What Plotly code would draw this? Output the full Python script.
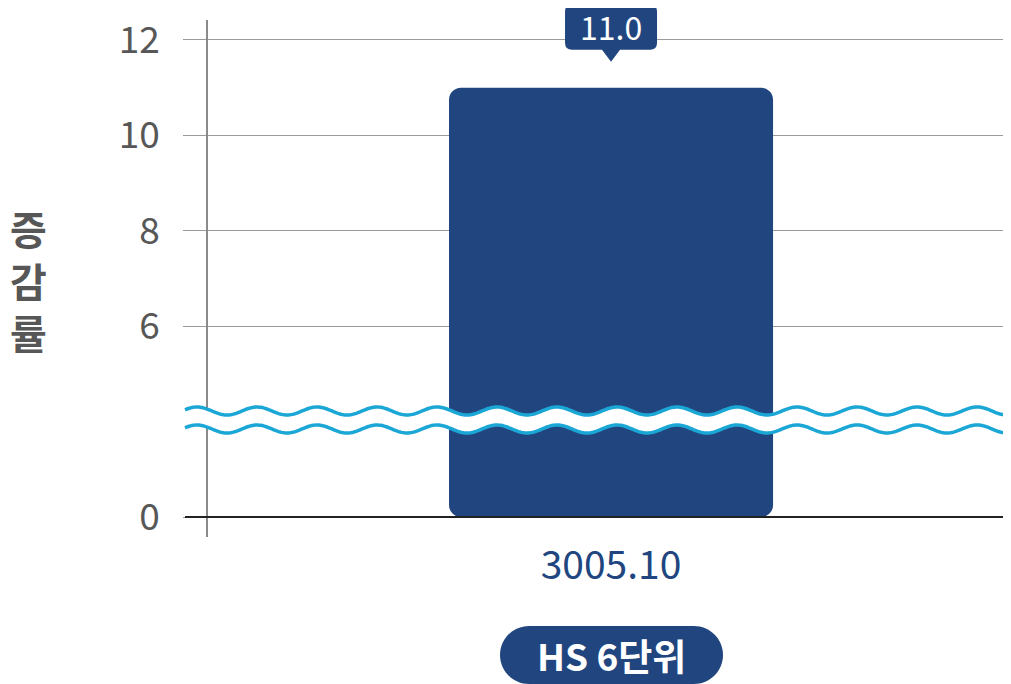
import numpy as np
import plotly.graph_objects as go

# ---- data ----
CATEGORIES = ["3005.10"]
VALUES = [11.0]
Y_TICK_VALUES = [0, 6, 8, 10, 12]
Y_TITLE = "증<br>감<br>률"
GROUP_LABEL = "HS 6단위"

# broken axis: values below the break are shifted so that 0 sits at this position
ZERO_POS = 2.0
BREAK_AT = 6


def axis_pos(v):
    return v if v >= BREAK_AT else v + ZERO_POS


# ---- style / layout constants ----
OFF = 8  # page body margin
W, H = 1011 - OFF, 684 - OFF
ML, MT = 208 - OFF, 20 - OFF
PW = 802
PH = 517
MR = W - ML - PW
MB = H - MT - PH
Y_RANGE = [1.581, 12.419]
X_RANGE = [-0.4975, len(CATEGORIES) - 0.5075]
BAR_COLOR = "#21467f"
WAVE_COLOR = "#1ba7d6"
TEXT_GRAY = "#575757"
FONT = "Noto Sans CJK KR"


def px_to_paper(px, py):
    # px, py in reference-window pixels
    return (px - OFF - ML) / PW, (MT + PH - (py - OFF)) / PH


def y_to_paper(v):
    return (v - Y_RANGE[0]) / (Y_RANGE[1] - Y_RANGE[0])


def x_to_paper(v):
    return (v - X_RANGE[0]) / (X_RANGE[1] - X_RANGE[0])


xs = list(range(len(CATEGORIES)))

fig = go.Figure()
fig.add_trace(go.Bar(
    x=xs,
    y=[v - ZERO_POS for v in VALUES],
    base=[ZERO_POS] * len(VALUES),
    width=0.4,
    marker=dict(color=BAR_COLOR, cornerradius=12, line=dict(width=0)),
    hoverinfo="skip",
))

shapes = []
annotations = []

# zero line (dark)
zp = y_to_paper(axis_pos(0))
shapes.append(dict(type="line", xref="paper", yref="paper",
                   x0=-23 / PW, x1=1, y0=zp, y1=zp,
                   line=dict(color="#222222", width=2.2), layer="above"))

# wavy break lines
px = np.linspace(185, 1011, 600)
A, PERIOD, PEAK0 = 4.0, 60.0, 197.0
top = 411 - A * np.cos(2 * np.pi * (px - PEAK0) / PERIOD)
bot = 429 - A * np.cos(2 * np.pi * (px - PEAK0) / PERIOD)


def path_from(pxs, pys, close=False):
    pts = [px_to_paper(a, b) for a, b in zip(pxs, pys)]
    s = "M " + " L ".join(f"{a:.5f},{b:.5f}" for a, b in pts)
    return s + (" Z" if close else "")


shapes.append(dict(type="path", xref="paper", yref="paper",
                   path=path_from(np.concatenate([px, px[::-1]]),
                                  np.concatenate([top, bot[::-1]]), close=True),
                   fillcolor="white", line=dict(width=0), layer="above"))
for arr in (top, bot):
    shapes.append(dict(type="path", xref="paper", yref="paper",
                       path=path_from(px, arr),
                       line=dict(color=WAVE_COLOR, width=3.5), layer="above"))

# value label boxes
for x, v in zip(xs, VALUES):
    r = 7
    hw, yb, yt = 46, 38, 83
    p = (f"M {-hw + r},{yt} L {hw - r},{yt} Q {hw},{yt} {hw},{yt - r} "
         f"L {hw},{yb + r} Q {hw},{yb} {hw - r},{yb} L 9,{yb} L 0,26 L -9,{yb} "
         f"L {-hw + r},{yb} Q {-hw},{yb} {-hw},{yb + r} L {-hw},{yt - r} "
         f"Q {-hw},{yt} {-hw + r},{yt} Z")
    shapes.append(dict(type="path", xref="paper", yref="paper",
                       xsizemode="pixel", ysizemode="pixel",
                       xanchor=x_to_paper(x), yanchor=y_to_paper(v), path=p,
                       fillcolor=BAR_COLOR, line=dict(width=0), layer="above"))
    annotations.append(dict(x=x, y=v, xref="x", yref="y", text=f"{v:.1f}",
                            showarrow=False, yshift=62, yanchor="middle",
                            height=28, valign="middle",
                            font=dict(family=FONT, size=32, color="white")))

# group label pill
cx, cy = px_to_paper(611.5, 655)
hw, hh, k = 111.5, 29, 16
s = hw - hh
pill = (f"M {-s},{hh} L {s},{hh} C {s + k},{hh} {hw},{k} {hw},0 "
        f"C {hw},{-k} {s + k},{-hh} {s},{-hh} L {-s},{-hh} "
        f"C {-s - k},{-hh} {-hw},{-k} {-hw},0 C {-hw},{k} {-s - k},{hh} {-s},{hh} Z")
shapes.append(dict(type="path", xref="paper", yref="paper",
                   xsizemode="pixel", ysizemode="pixel",
                   xanchor=cx, yanchor=cy, path=pill,
                   fillcolor=BAR_COLOR, line=dict(width=0)))
annotations.append(dict(x=cx, y=cy, xref="paper", yref="paper", text=f"<b>{GROUP_LABEL}</b>",
                        showarrow=False, xanchor="center", yanchor="middle",
                        height=44, valign="middle",
                        font=dict(family=FONT, size=37, color="white")))

# y-axis title, stacked characters
ax_, ay_ = px_to_paper(28, 280)
annotations.append(dict(x=ax_, y=ay_, xref="paper", yref="paper", text=f"<b>{Y_TITLE}</b>",
                        showarrow=False, xanchor="center", yanchor="middle",
                        font=dict(family=FONT, size=40, color=TEXT_GRAY)))

fig.update_layout(
    width=W, height=H,
    margin=dict(l=ML, r=MR, t=MT, b=MB, autoexpand=False),
    template="none",
    paper_bgcolor="white", plot_bgcolor="white",
    showlegend=False,
    font=dict(family=FONT, color=TEXT_GRAY),
    shapes=shapes,
    annotations=annotations,
    xaxis=dict(range=X_RANGE, tickvals=xs, ticktext=CATEGORIES,
               showgrid=False, zeroline=False, showline=False, ticks="",
               ticklabelstandoff=2,
               tickfont=dict(family=FONT, size=39, color=BAR_COLOR), fixedrange=True),
    yaxis=dict(range=Y_RANGE,
               tickvals=[axis_pos(v) for v in Y_TICK_VALUES],
               ticktext=[str(v) for v in Y_TICK_VALUES],
               showgrid=True, gridcolor="#9a9a9a", gridwidth=1,
               zeroline=False, showline=True, linecolor="#8a8a8a", linewidth=1.5,
               ticks="outside", ticklen=23, tickcolor="#9a9a9a", tickwidth=1,
               ticklabelstandoff=16,
               tickfont=dict(family=FONT, size=37, color=TEXT_GRAY), fixedrange=True),
)

fig.write_html("out.html")
